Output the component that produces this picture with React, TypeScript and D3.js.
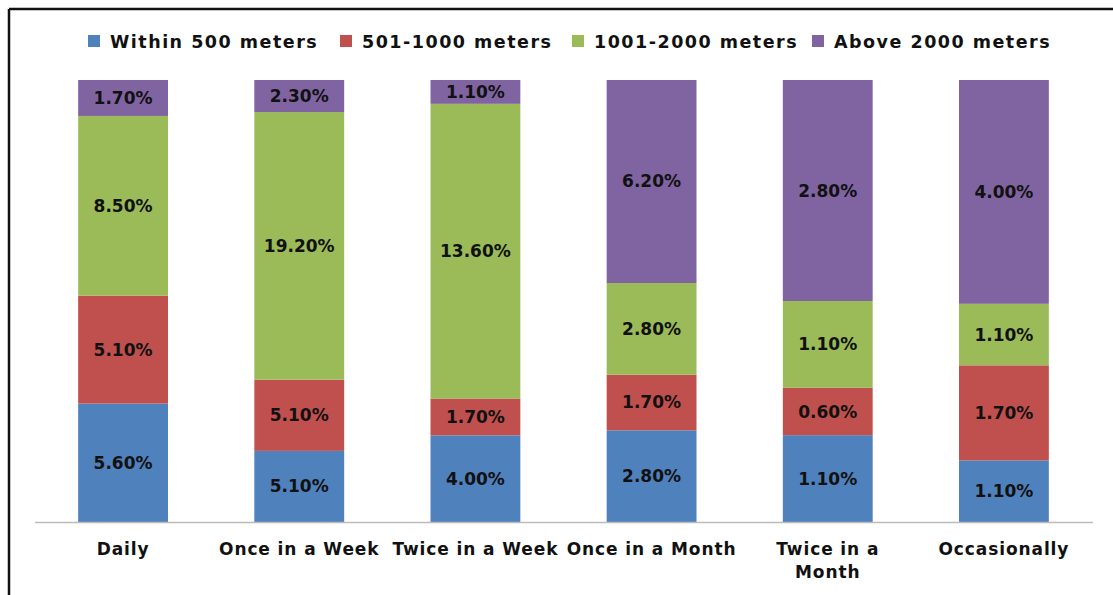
import React from "react";
import * as d3 from "d3";

const categories = ["Daily", "Once in a Week", "Twice in a Week", "Once in a Month", "Twice in a Month", "Occasionally"];
const categoryLines = [["Daily"], ["Once in a Week"], ["Twice in a Week"], ["Once in a Month"], ["Twice in a", "Month"], ["Occasionally"]];
const seriesNames = ["Within 500 meters", "501-1000 meters", "1001-2000 meters", "Above 2000 meters"];
const seriesColors = ["#4F81BD", "#C0504D", "#9BBB59", "#8064A2"];
const within500 = [5.6, 5.1, 4.0, 2.8, 1.1, 1.1];
const m501to1000 = [5.1, 5.1, 1.7, 1.7, 0.6, 1.7];
const m1001to2000 = [8.5, 19.2, 13.6, 2.8, 1.1, 1.1];
const above2000 = [1.7, 2.3, 1.1, 6.2, 2.8, 4.0];
const legendX = [82, 334, 566, 806];

const W = 1113;
const H = 595;
const FONT = "'DejaVu Sans', Verdana, sans-serif";

export default function App() {
  const series = [within500, m501to1000, m1001to2000, above2000];
  const rows = categories.map((c, i) => {
    const o: any = { cat: c };
    seriesNames.forEach((s, k) => (o[s] = series[k][i]));
    return o;
  });
  const stacked = d3.stack<any>().keys(seriesNames).offset(d3.stackOffsetExpand)(rows);
  const x = d3.scaleBand<string>().domain(categories).range([35, 1092]).paddingInner(0.49).paddingOuter(0.245);
  const y = d3.scaleLinear().domain([0, 1]).range([522, 80]);

  return (
    <svg width={W} height={H} style={{ position: "absolute", left: 0, top: 0, background: "#fff" }}>
      <rect x={0} y={0} width={W} height={H} fill="#fff" />
      {/* frame */}
      <line x1={9} y1={9} x2={W} y2={9} stroke="#111" strokeWidth={2.5} />
      <line x1={9} y1={9} x2={9} y2={H} stroke="#111" strokeWidth={2.5} />
      {/* legend */}
      {seriesNames.map((s, k) => (
        <g key={s}>
          <rect x={legendX[k] + 6} y={35} width={12} height={12} fill={seriesColors[k]} />
          <text x={legendX[k] + 28} y={47.5} fontFamily={FONT} fontWeight="bold" fontSize={17.5} fill="#111" letterSpacing={1.5}>
            {s}
          </text>
        </g>
      ))}
      {/* bars */}
      {stacked.map((layer, k) => (
        <g key={layer.key}>
          {layer.map((d, i) => {
            const bx = x(categories[i])!;
            const y0 = y(d[0]);
            const y1 = y(d[1]);
            return (
              <g key={i}>
                <rect x={bx} y={y1} width={x.bandwidth()} height={y0 - y1} fill={seriesColors[k]} />
                <text
                  x={bx + x.bandwidth() / 2}
                  y={(y0 + y1) / 2 + 6}
                  textAnchor="middle"
                  fontFamily={FONT}
                  fontWeight="bold"
                  fontSize={17}
                  fill="#111"
                >
                  {series[k][i].toFixed(2) + "%"}
                </text>
              </g>
            );
          })}
        </g>
      ))}
      {/* axis */}
      <line x1={35} y1={522.5} x2={1093} y2={522.5} stroke="#bbb" strokeWidth={1.5} />
      {categories.map((c, i) => (
        <text key={c} textAnchor="middle" fontFamily={FONT} fontWeight="bold" fontSize={17} fill="#111" letterSpacing={0.9}>
          {categoryLines[i].map((ln, j) => (
            <tspan key={j} x={x(c)! + x.bandwidth() / 2} y={555 + j * 23}>
              {ln}
            </tspan>
          ))}
        </text>
      ))}
    </svg>
  );
}
